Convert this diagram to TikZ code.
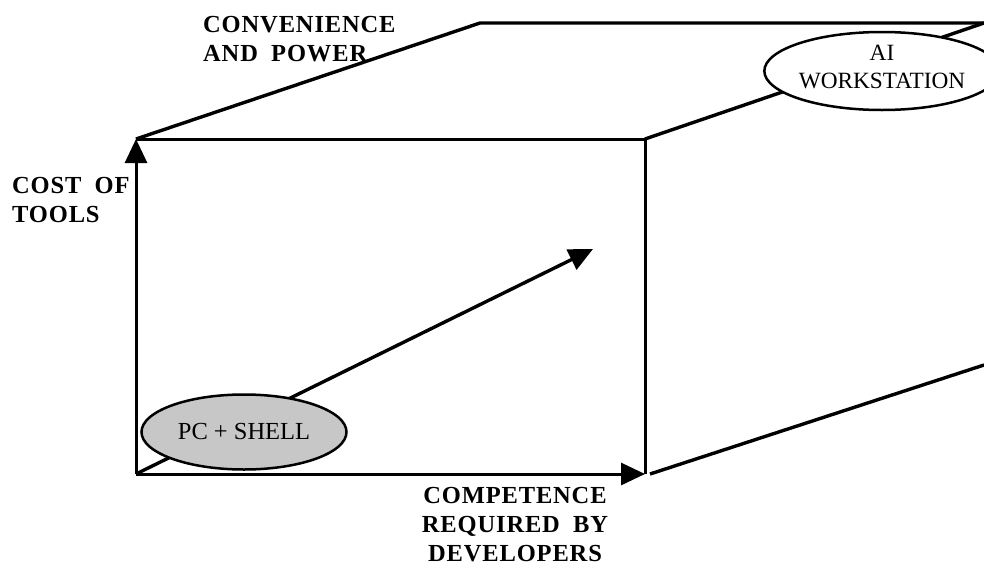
\documentclass[tikz,border=0pt]{standalone}
\usepackage{fontspec}
\setmainfont{Liberation Serif}
\usetikzlibrary{arrows.meta,shapes.geometric}

\newfontfamily\axisfont[LetterSpace=3.5,WordSpace=1.9]{Liberation Serif Bold}

\begin{document}
\begin{tikzpicture}[x=1pt,y=-1pt,
  edge/.style={line width=3pt},
  depth/.style={line width=3.4pt},
  axis/.style={line width=3pt,-{Triangle[length=24pt,width=22pt]}},
  axislabel/.style={font=\axisfont\fontsize{24.5}{29}\selectfont,inner sep=0pt},
  system/.style={ellipse,draw,line width=2.5pt,inner sep=0pt,align=center}
]
\useasboundingbox (0,0) rectangle (984,565);

% corners of the front face and the receding edges
\coordinate (fbl) at (136,474);
\coordinate (ftl) at (136,139);
\coordinate (ftr) at (645,139);
\coordinate (fbr) at (645,474);
\coordinate (btl) at (480,23);
\coordinate (btr) at (984,23);
\coordinate (bbs) at (650,474);
\coordinate (bbr) at (984,365);
\coordinate (tip) at (593,249);

% front face
\draw[edge] (ftl) -- (ftr) -- (fbr);
% receding edges
\draw[depth] (ftl) -- (btl) -- (btr);
\draw[depth] (ftr) -- (btr);
\draw[depth] (bbs) -- (bbr);

% axes
\draw[axis] (fbl) -- (ftl);
\draw[axis] (fbl) -- (fbr);
\draw[axis,line width=3.4pt] (fbl) -- (tip);

% systems
\node[system,fill=black!22,minimum width=205pt,minimum height=75pt,
  font=\fontsize{24.5}{29}\selectfont] (pc)
  at (244,432) {PC + SHELL};
\node[system,fill=white,minimum width=201pt,minimum height=78pt,text depth=9pt,
  font=\fontsize{23.3}{28}\selectfont] (ai)
  at (882,71) {AI\\WORKSTATION};

% axis labels
\node[axislabel,anchor=north west,align=left] (conv) at (203,16)
  {CONVENIENCE\\AND POWER};
\node[axislabel,anchor=north west,align=left] (cost) at (12,177)
  {COST OF\\TOOLS};
\node[axislabel,anchor=north,align=center] (comp) at (515,487)
  {COMPETENCE\\REQUIRED BY\\DEVELOPERS};
\end{tikzpicture}
\end{document}
